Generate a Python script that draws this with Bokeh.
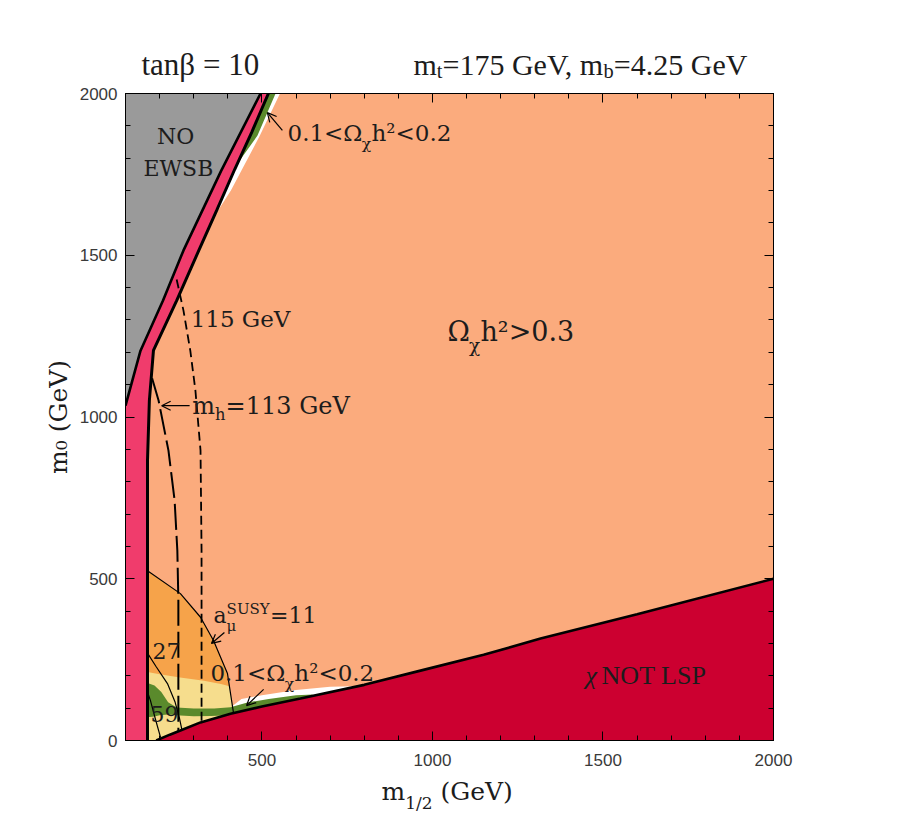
import numpy as np
from bokeh.plotting import figure
from bokeh.layouts import column
from bokeh.models import Range1d, LinearAxis, Label, Arrow, OpenHead, FixedTicker
from bokeh.embed import file_html
from bokeh.resources import INLINE

# ---------------- data (m_1/2 [GeV], m_0 [GeV]) ----------------
x_ticks = [500, 1000, 1500, 2000]
y_ticks = [0, 500, 1000, 1500, 2000]
x_minor = list(range(100, 2001, 100))
y_minor = list(range(0, 2001, 100))

# boundary of the "NO EWSB" region
gray_edge_x = [100, 144, 210, 270, 380, 496]
gray_edge_y = [1035, 1205, 1360, 1515, 1760, 2000]
# right edge of the pink excluded band
pink_edge_x = [164.5, 164.5, 170, 182, 250, 315, 368, 420, 470, 519]
pink_edge_y = [0, 866, 1051, 1206, 1360, 1515, 1640, 1765, 1880, 2000]
# chi NOT LSP boundary
lsp_edge_x = [190, 230, 261, 320, 408, 500, 613, 800, 965, 1150, 1317, 1600, 2000]
lsp_edge_y = [0, 18, 31, 56, 83, 105, 130, 172, 216, 265, 315, 390, 500]
# a_mu^SUSY contours
a11_x = [164.5, 261, 320, 358, 399, 417]
a11_y = [525, 454, 381, 309, 207, 83]
a27_x = [164.5, 190, 223, 245, 258, 265]
a27_y = [270, 228, 176, 120, 70, 35]
a59_x = [164.5, 173, 188, 203]
a59_y = [150, 124, 65, 9]
# Higgs mass contours
mh113_x = [178, 197, 226, 244, 252, 255, 255]
mh113_y = [1120, 1051, 896, 742, 587, 433, 29]
mh115_x = [250, 270, 290, 305, 320, 323, 323]
mh115_y = [1425, 1329, 1205, 1082, 896, 587, 60]
# shaded regions
gmu_x = [164.5, 261, 320, 358, 399, 417, 420, 164.5]
gmu_y = [525, 454, 381, 309, 207, 83, 0, 0]
yel_x = [164.5, 200, 260, 330, 380, 405, 417, 420, 164.5]
yel_y = [212, 205, 195, 185, 175, 168, 83, 0, 0]
grn_x = [164.5, 185, 205, 225, 250, 300, 360, 408, 460, 520, 600, 650,
         600, 500, 408, 350, 300, 261, 225, 200, 185, 164.5]
grn_y = [178, 170, 150, 118, 102, 99, 99, 103, 118, 128, 140, 142,
         118, 95, 78, 76, 75, 77, 80, 78, 74, 72]
wht_x = [405, 440, 500, 600, 700, 770, 770, 600, 405]
wht_y = [100, 128, 140, 156, 166, 168, 150, 115, 78]
wup_x = [360, 420, 470, 519, 553, 494, 409, 360]
wup_y = [1620, 1765, 1880, 2000, 2000, 1870, 1700, 1620]
gup_x = [426, 470, 519, 540, 487, 426]
gup_y = [1780, 1880, 2000, 2000, 1870, 1780]

# ---------------- styles ----------------
SALMON = "#fbab7d"
GRAY = "#9a9a9a"
PINK = "#f03c6c"
CRIMSON = "#cc0030"
ORANGE = "#f6a34a"
YELLOW = "#f6dd8d"
GREEN = "#5a8a2c"
TXT = "#1c1c1c"

TOT_W = 901
HEAD_H, MID_H, BOT_H = 82, 694, 44
ML, MT, MB = 125, 11, 36
MR = TOT_W - ML - 648
SX = 648 / 1900.0
SY = 647 / 2000.0


def blank_fig(h):
    # frame spans the same columns as the main plot frame; x in page pixels
    f = figure(width=TOT_W, height=h, x_range=Range1d(ML, ML + 648), y_range=Range1d(0, h),
               output_backend="svg", toolbar_location=None, title=None,
               x_axis_location=None, y_axis_location=None,
               min_border_left=ML, min_border_right=MR, min_border_top=0, min_border_bottom=0,
               outline_line_color=None, background_fill_color="white",
               border_fill_color="white")
    f.grid.visible = False
    return f


p = figure(width=TOT_W, height=MID_H, x_range=Range1d(100, 2000), y_range=Range1d(0, 2000),
           output_backend="svg", toolbar_location=None, title=None,
           x_axis_location=None, y_axis_location=None,
           min_border_left=ML, min_border_right=MR, min_border_top=MT, min_border_bottom=MB,
           background_fill_color=SALMON, border_fill_color="white",
           outline_line_color="black", outline_line_width=1)
p.grid.visible = False

# regions
p.patch(wht_x, wht_y, fill_color="white", line_color=None)
p.patch(wup_x, wup_y, fill_color="white", line_color=None)
p.patch(gup_x, gup_y, fill_color=GREEN, line_color=None)
p.patch(gmu_x, gmu_y, fill_color=ORANGE, line_color=None)
p.patch(yel_x, yel_y, fill_color=YELLOW, line_color=None)
p.patch(grn_x, grn_y, fill_color=GREEN, line_color=None)
p.patch(lsp_edge_x + [2000], lsp_edge_y + [0], fill_color=CRIMSON, line_color=None)
p.patch([100] + pink_edge_x + gray_edge_x[::-1], [0] + pink_edge_y + gray_edge_y[::-1],
        fill_color=PINK, line_color=None)
p.patch(gray_edge_x + [100], gray_edge_y + [2000], fill_color=GRAY, line_color=None)

# contours
p.line(a11_x, a11_y, line_color="black", line_width=1.2)
p.line(a27_x, a27_y, line_color="black", line_width=1.2)
p.line(a59_x, a59_y, line_color="black", line_width=1.2)
p.line(mh113_x, mh113_y, line_color="black", line_width=2, line_dash="26 6")
p.line(mh115_x, mh115_y, line_color="black", line_width=1.8, line_dash="9 5")
p.line(gray_edge_x, gray_edge_y, line_color="black", line_width=2.6)
p.line(pink_edge_x, pink_edge_y, line_color="black", line_width=3)
p.line(lsp_edge_x, lsp_edge_y, line_color="black", line_width=2.6)

# axes (all four sides, inward ticks)
bot_ax, left_ax, top_ax, right_ax = LinearAxis(), LinearAxis(), LinearAxis(), LinearAxis()
p.add_layout(bot_ax, "below")
p.add_layout(left_ax, "left")
p.add_layout(top_ax, "above")
p.add_layout(right_ax, "right")
for ax in [bot_ax, top_ax]:
    ax.ticker = FixedTicker(ticks=x_ticks, minor_ticks=x_minor)
for ax in [left_ax, right_ax]:
    ax.ticker = FixedTicker(ticks=y_ticks, minor_ticks=y_minor)
for ax in [bot_ax, left_ax, top_ax, right_ax]:
    ax.major_tick_in = 9
    ax.major_tick_out = 0
    ax.minor_tick_in = 5
    ax.minor_tick_out = 0
    ax.axis_line_color = "black"
    ax.major_tick_line_color = "black"
    ax.minor_tick_line_color = "black"
    ax.major_label_text_font = "Liberation Sans"
    ax.major_label_text_font_size = "17px"
    ax.major_label_text_color = "#3a3a3a"
top_ax.major_label_overrides = {t: "" for t in x_ticks}
right_ax.major_label_overrides = {t: "" for t in y_ticks}
for ax in [top_ax, right_ax]:
    ax.major_label_text_font_size = "0px"
    ax.major_label_standoff = 0
bot_ax.major_label_standoff = 13
left_ax.major_label_standoff = 8
left_ax.axis_label = "m₀ (GeV)"
left_ax.axis_label_text_font = "DejaVu Serif"
left_ax.axis_label_text_font_size = "25px"
left_ax.axis_label_text_font_style = "normal"
left_ax.axis_label_text_color = TXT
left_ax.axis_label_standoff = 4

# ---------------- text helpers ----------------
W_DV = {' ': .318, '.': .318, ',': .318, '<': .838, '=': .838, '>': .838, '(': .39, ')': .39,
        '/': .337, 'a': .596, 'b': .64, 'e': .592, 'h': .644, 'm': .948, 'n': .644, 't': .402,
        'G': .776, 'V': .77, 'S': .685, 'U': .812, 'Y': .724, 'Ω': .80, 'χ': .62, 'μ': .66,
        '²': .401}
W_LS = {' ': .22, '.': .25, ',': .2, '=': .564, 'm': .778, 't': .278, 'b': .5, 'a': .444,
        'n': .5, 'β': .5, 'G': .722, 'e': .444, 'V': .722}


def tw(s, size, table):
    return sum(table.get(c, .636 if table is W_DV else .5) for c in s) * size


def rich(fig, x, y, parts, size, font, table, sx=1.0, sy=1.0, sub_k=0.4, color=TXT):
    """x: left start, y: vertical centre of the main-size text."""
    cur = 0.0
    for s, kind in parts:
        small = kind in ("sub", "sup", "subst")
        fs = size * (0.68 if small else 1.0)
        lead = len(s) - len(s.lstrip(" "))
        cur += tw(" " * lead, fs, table)
        s = s.strip(" ")
        dy = {"n": 0.0, "sub": -sub_k * size, "subst": -0.45 * size, "sup": 0.31 * size}[kind]
        fig.add_layout(Label(x=x + cur / sx, y=y + dy / sy, text=s, text_font=font,
                             text_font_size=f"{fs:.1f}px", text_color=color,
                             text_align="left", text_baseline="middle"))
        if kind != "subst":
            cur += tw(s, fs, table)


DV = "DejaVu Serif"
LS = "Liberation Serif"

# header strip (x in page pixels, y measured up from its bottom edge)
head = blank_fig(HEAD_H)
rich(head, 141, 18, [("tanβ = 10", "n")], 31, LS, W_LS)
rich(head, 413, 18, [("m", "n"), ("t", "sub"), ("=175 GeV, m", "n"), ("b", "sub"),
                     ("=4.25 GeV", "n")], 30, LS, W_LS, sub_k=0.2)

# bottom strip with x title
bottom = blank_fig(BOT_H)
rich(bottom, 381, 29, [("m", "n"), ("1/2", "sub"), (" (GeV)", "n")], 25, DV, W_DV, sub_k=0.45)

# in-plot annotations (data coordinates)
p.add_layout(Label(x=247, y=1867, text="NO", text_font=DV, text_font_size="22px",
                   text_color=TXT, text_align="center", text_baseline="middle"))
p.add_layout(Label(x=255, y=1768, text="EWSB", text_font=DV, text_font_size="22px",
                   text_color=TXT, text_align="center", text_baseline="middle"))
kw = dict(sx=SX, sy=SY)
rich(p, 575, 1878, [("0.1<Ω", "n"), ("χ", "sub"), ("h²<0.2", "n")], 23, DV, W_DV, sub_k=0.5, **kw)
rich(p, 291, 1304, [("115 GeV", "n")], 23, DV, W_DV, **kw)
rich(p, 296, 1035, [("m", "n"), ("h", "sub"), ("=113 GeV", "n")], 24, DV, W_DV, sub_k=0.38, **kw)
rich(p, 1044, 1264, [("Ω", "n"), ("χ", "sub"), ("h²>0.3", "n")], 27, DV, W_DV, sub_k=0.5, **kw)
rich(p, 358, 386, [("a", "n"), ("μ", "subst"), ("SUSY", "sup"), ("=11", "n")], 22, DV, W_DV, **kw)
rich(p, 349, 210, [("0.1<Ω", "n"), ("χ", "sub"), ("h²<0.2", "n")], 23, DV, W_DV, sub_k=0.5, **kw)
rich(p, 179, 278, [("27", "n")], 22, DV, W_DV, **kw)
rich(p, 173, 82, [("59", "n")], 22, DV, W_DV, **kw)
p.add_layout(Label(x=1449, y=202, text="χ", text_font=LS, text_font_size="26px",
                   text_font_style="italic", text_color=TXT, text_baseline="middle"))
p.add_layout(Label(x=1449 + 16 / SX, y=202, text="NOT LSP", text_font=LS, text_font_size="26px",
                   text_color=TXT, text_baseline="middle"))

# arrows
for xs, ys, xe, ye in [(560, 1886, 516, 1941), (288, 1035, 206, 1035),
                       (390, 334, 352, 300), (505, 158, 455, 108)]:
    p.add_layout(Arrow(end=OpenHead(size=9, line_width=1.2, line_color="black"),
                       x_start=xs, y_start=ys, x_end=xe, y_end=ye,
                       line_width=1.2, line_color="black"))

layout = column(head, p, bottom)
open("out.html", "w").write(file_html(layout, INLINE))
